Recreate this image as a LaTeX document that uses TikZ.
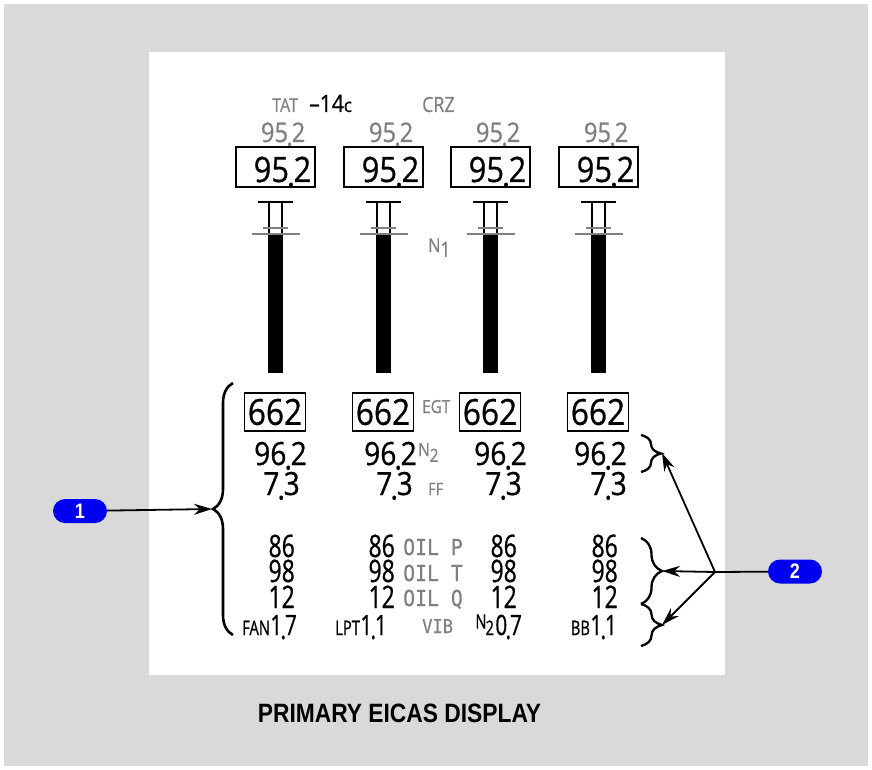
\documentclass[tikz,border=0pt]{standalone}
\usepackage{fontspec}
\setmainfont{Open Sans}
\newfontfamily\dispfont[FakeStretch=0.88, FakeBold=0.7]{Open Sans}
\newfontfamily\narrowfont[FakeStretch=0.74, FakeBold=0.7]{Open Sans}
\newfontfamily\labelfont[FakeStretch=0.85, FakeBold=0.5]{Open Sans}
\newfontfamily\eicasmono[FakeStretch=0.9, FakeBold=0.4]{DejaVu Sans Mono}
\newfontfamily\titlefont[FakeStretch=0.86]{Liberation Sans}
\usepackage{tikz}
\usetikzlibrary{arrows.meta, decorations.pathreplacing, calc}
\definecolor{panelgray}{RGB}{217,217,217}
\definecolor{legendgray}{RGB}{128,128,128}
\definecolor{calloutblue}{RGB}{0,0,240}
\newcommand{\eicassize}[1]{\fontsize{#1}{#1}\selectfont}
\newcommand{\dnum}[2]{#1\kern-0.06em\raisebox{-0.14em}{.}\kern-0.04em#2}

\begin{document}
\begin{tikzpicture}[x=1pt, y=-1pt,
  lbl/.style={inner sep=0pt, anchor=base west, text=legendgray, font=\labelfont\eicassize{#1}},
  monolbl/.style={inner sep=0pt, anchor=base west, text=legendgray, font=\eicasmono\eicassize{#1}},
  grnum/.style={inner sep=0pt, anchor=base east, text=legendgray, font=\dispfont\eicassize{27}},
  bignum/.style={inner sep=0pt, anchor=base east, font=\dispfont\eicassize{35}},
  midnum/.style={inner sep=0pt, anchor=base east, font=\dispfont\eicassize{32}},
  oilnum/.style={inner sep=0pt, anchor=base east, font=\narrowfont\eicassize{31}},
  vibnum/.style={inner sep=0pt, anchor=base east, font=\narrowfont\eicassize{28}},
  vibtag/.style={inner sep=0pt, anchor=base east, font=\narrowfont\eicassize{20}},
  nbox/.style={draw, line width=2pt, minimum width=79pt, minimum height=40pt, inner sep=0pt},
  egtbox/.style={draw, line width=1.8pt, minimum width=61pt, minimum height=38pt, inner sep=0pt,
    font=\dispfont\eicassize{36}},
  bracefig/.style={decorate, decoration={brace, amplitude=#1}, line width=2.6pt},
  callout/.style={fill=calloutblue, text=white, rounded corners=12pt, minimum width=54pt,
    minimum height=24pt, inner sep=0pt, font=\titlefont\bfseries\eicassize{21}},
  callarrow/.style={-{Stealth[length=18pt,width=11pt]}, line width=1.8pt}]

  % Frame: grey surround and white display panel
  \fill[white] (0,0) rectangle (872,770);
  \fill[panelgray] (4,4) rectangle (868,766);
  \fill[white] (149,52) rectangle (725,675);
  \useasboundingbox (0,0) rectangle (872,770);

  % Header line
  \node[lbl=19] (tat) at (272,112) {TAT};
  \node[inner sep=0pt, anchor=base west, font=\dispfont\eicassize{24}] (tatval) at (309,112)
    {–14\eicassize{19}c};
  \node[lbl=21] (crz) at (422,112) {CRZ};

  % N1 columns: command value, readout box and tape
  \foreach \i/\c in {1/275.5, 2/383.5, 3/490.5, 4/598.5} {
    \node[grnum] (cmd\i) at (\c+30,142) {\dnum{95}{2}};
    \node[nbox] (n1box\i) at (\c,167) {};
    \node[bignum] (n1val\i) at (\c+36,182) {\dnum{95}{2}};
    \draw[line width=2pt] (\c-17.5,202) -- (\c+17.5,202);
    \draw[line width=2pt] (\c-6.5,202) -- (\c-6.5,234) (\c+6.5,202) -- (\c+6.5,234);
    \draw[legendgray, line width=2pt] (\c-12.5,228) -- (\c+12.5,228);
    \fill (\c-7.5,234) rectangle (\c+7.5,373);
    \draw[legendgray, line width=2pt] (\c-24,234) -- (\c+24,234);
    \node[egtbox] (egt\i) at (\c-0.5,412) {662};
  }
  \node[lbl=19] (n1lbl) at (428,252) {N\raisebox{-0.25em}{\eicassize{21}1}};

  % Secondary readouts
  \foreach \i/\xa/\xb/\xc in {1/307/300/295, 2/417/413/395, 3/527/522/517, 4/627/627/618} {
    \node[midnum] (n2val\i) at (\xa,465) {\dnum{96}{2}};
    \node[midnum] (ffval\i) at (\xb,495) {\dnum{7}{3}};
    \node[oilnum] (oilp\i) at (\xc,557) {86};
    \node[oilnum] (oilt\i) at (\xc,582) {98};
    \node[oilnum] (oilq\i) at (\xc,608) {12};
  }
  \node[lbl=18] (egtlbl) at (422,413) {EGT};
  \node[lbl=18] (n2lbl) at (418,456) {N\raisebox{-0.32em}{2}};
  \node[lbl=17] (fflbl) at (428,495) {FF};
  \node[monolbl=22] (oilplbl) at (403,555) {OIL P};
  \node[monolbl=22] (oiltlbl) at (403,581) {OIL T};
  \node[monolbl=22] (oilqlbl) at (403,606) {OIL Q};
  \node[monolbl=19] (viblbl) at (422,633) {VIB};

  % Vibration row
  \node[vibnum] (vib1) at (297,635) {\dnum{1}{7}};
  \node[vibnum] (vib2) at (387,635) {\dnum{1}{1}};
  \node[vibnum] (vib3) at (522,635) {\dnum{0}{7}};
  \node[vibnum] (vib4) at (617,635) {\dnum{1}{1}};
  \node[vibtag] (fan) at (vib1.base west) {FAN};
  \node[vibtag] (lpt) at (vib2.base west) {LPT};
  \node[vibtag] (n2tag) at ($(vib3.base west)+(-1,0)$) {\raisebox{0.32em}{N}\kern-0.05em2};
  \node[vibtag] (bb) at (vib4.base west) {BB};

  % Braces
  \draw[bracefig=20pt] (233,635) -- (233,383);
  \draw[bracefig=20pt, line width=2.3pt] (641,435) -- (641,472);
  \draw[bracefig=21pt, line width=2.3pt] (641,538) -- (641,604);
  \draw[bracefig=21pt, line width=2.3pt] (641,604) -- (641,646);
  \coordinate (tipall) at (212,509);
  \coordinate (tipn2) at (662,453);
  \coordinate (tipoil) at (662,571);
  \coordinate (tipvib) at (662,625);

  % Callouts
  \node[callout] (call1) at (80,511) {1};
  \node[callout] (call2) at (795,571.5) {2};
  \coordinate (hub) at (715,572);
  \draw[callarrow] (call1) -- (tipall);
  \draw[line width=1.8pt] (call2) -- (hub);
  \draw[callarrow] (hub) -- (tipn2);
  \draw[callarrow] (hub) -- (tipoil);
  \draw[callarrow] (hub) -- (tipvib);

  % Caption
  \node[font=\titlefont\bfseries\eicassize{26.5}, inner sep=0pt, anchor=base] (title)
    at (399.5,722) {PRIMARY EICAS DISPLAY};
\end{tikzpicture}
\end{document}
